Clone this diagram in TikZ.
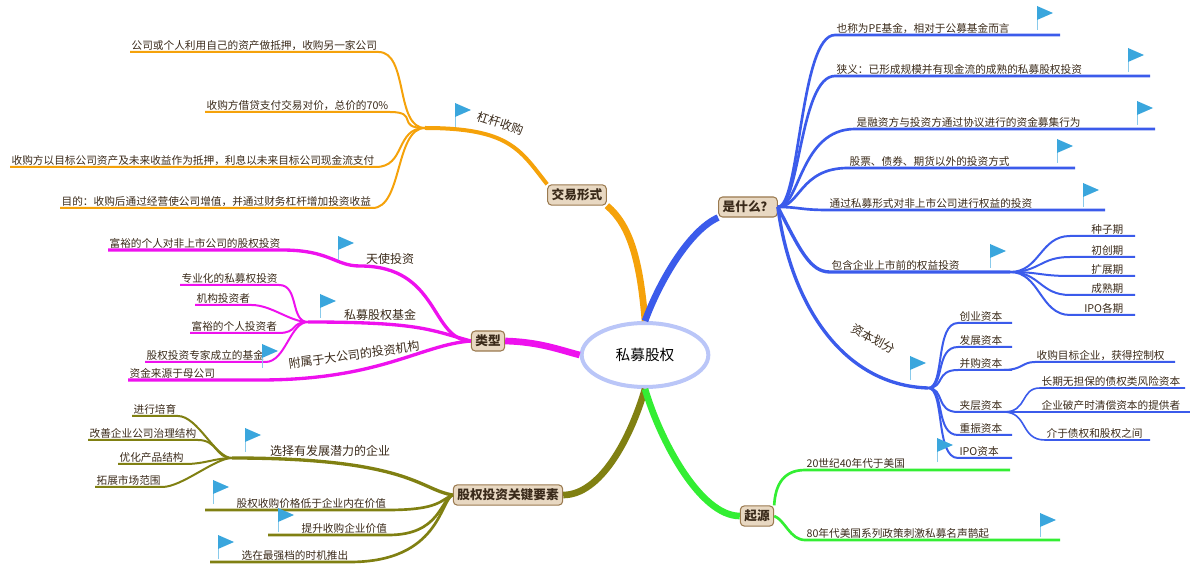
\documentclass[tikz,border=0pt]{standalone}
\usepackage{fontspec}
\setmainfont{Noto Sans CJK SC}
\usetikzlibrary{shapes.geometric}
\definecolor{orng}{HTML}{F5A20A}
\definecolor{blu}{HTML}{3B5BEB}
\definecolor{mgt}{HTML}{EE11EE}
\definecolor{olv}{HTML}{808012}
\definecolor{grn}{HTML}{33EE33}
\definecolor{flagc}{HTML}{3AA6DD}
\definecolor{boxfill}{HTML}{E8D8C2}
\definecolor{boxbrd}{HTML}{9A7A50}
\definecolor{txt}{HTML}{3A2A1A}
\begin{document}
\begin{tikzpicture}[x=0.75pt,y=-0.75pt,
	topic/.style={draw=boxbrd, fill=boxfill, rounded corners=3pt, thick, text=txt, font=\bfseries\fontsize{9.5}{11}\selectfont, inner sep=3pt},
	leaf/.style={font=\fontsize{8}{9}\selectfont, text=txt, inner sep=1pt, anchor=south west},
	midlab/.style={font=\fontsize{9}{10}\selectfont, text=txt, inner sep=1pt, anchor=south},
	flag/.pic={\draw[flagc!60, thin] (0,0) -- (0,-24); \fill[flagc] (0,-24) -- (16,-17) -- (0,-10) -- cycle;},
	]
	\useasboundingbox (0,0) rectangle (1200,584);

	% centre and topics
	\node[ellipse, draw=blu!35, line width=3pt, fill=white, minimum width=95, minimum height=48, inner sep=1pt, font=\fontsize{11}{13}\selectfont] at (645,355) (root) {私募股权};
	\node[topic] at (577,195) (trade) {交易形式};
	\node[topic] at (748,207) (what) {是什么？};
	\node[topic] at (488,341) (kind) {类型};
	\node[topic] at (508,495) (key) {股权投资关键要素};
	\node[topic] at (757,516) (origin) {起源};

	\draw[orng, line width=5pt] (root.north) .. controls (640,260) and (630,225) .. (trade.south east);
	\draw[blu, line width=5pt] (root.north) .. controls (660,280) and (690,230) .. (what.south west);
	\draw[mgt, line width=5pt] (root.west) .. controls (560,350) and (540,342) .. (kind.east);
	\draw[olv, line width=5pt] (root.south) .. controls (630,440) and (600,495) .. (key.east);
	\draw[grn, line width=5pt] (root.south) .. controls (660,440) and (700,516) .. (origin.west);

	% trade
	\coordinate (lbo) at (425,128);
	\node[midlab, rotate=-18] at (498,130) (lbolab) {杠杆收购};
	\draw[orng, line width=3pt] (trade.north west) .. controls (520,150) and (510,128) .. (lbo);
	\node[leaf] at (130,52) (t1) {公司或个人利用自己的资产做抵押，收购另一家公司};
	\node[leaf] at (205,112) (t2) {收购方借贷支付交易对价，总价的70\%};
	\node[leaf] at (10,167) (t3) {收购方以目标公司资产及未来收益作为抵押，利息以未来目标公司现金流支付};
	\node[leaf] at (60,208) (t4) {目的：收购后通过经营使公司增值，并通过财务杠杆增加投资收益};
	\foreach \t in {t1,t2,t3,t4}
		\draw[orng, line width=1.5pt] (\t.south west) -- (\t.south east) .. controls +(30,0) and (395,128) .. (lbo);

	% what
	\node[leaf] at (835,35) (w1) {也称为PE基金，相对于公募基金而言};
	\node[leaf] at (835,76) (w2) {狭义：已形成规模并有现金流的成熟的私募股权投资};
	\node[leaf] at (855,129) (w3) {是融资方与投资方通过协议进行的资金募集行为};
	\node[leaf] at (848,168) (w4) {股票、债券、期货以外的投资方式};
	\node[leaf] at (828,210) (w5) {通过私募形式对非上市公司进行权益的投资};
	\foreach \t/\e in {w1/1060,w2/1150,w3/1155,w4/1075,w5/1105}
		\draw[blu, line width=2pt] (what.east) .. controls (800,207) and (800,0|-\t.south west) .. (\t.south west) -- (\e,0|-\t.south west);

	\coordinate (stage) at (1010,272);
	\node[leaf] at (830,272) (w6) {包含企业上市前的权益投资};
	\draw[blu, line width=2.5pt] (what.east) .. controls (800,250) and (810,272) .. (w6.south west) -- (stage);
	\foreach \n/\s/\y in {s1/种子期/236,s2/初创期/257,s3/扩展期/276,s4/成熟期/295,s5/IPO各期/315}{
		\node[leaf, anchor=south east] at (1125,\y) (\n) {\s};
		\draw[blu, line width=1.5pt] (stage) .. controls (1040,272) and (1040,\y) .. (1070,\y) -- (1135,\y);
	}

	\coordinate (cap) at (928,388);
	\node[midlab, rotate=-28] at (870,345) (caplab) {资本划分};
	\draw[blu, line width=2.5pt] (what.east) .. controls (790,300) and (840,385) .. (cap);
	\foreach \n/\s/\y in {c1/创业资本/323,c2/发展资本/347,c3/并购资本/370,c4/夹层资本/412,c5/重振资本/435,c6/IPO资本/458}{
		\node[leaf] at (958,\y) (\n) {\s};
		\draw[blu, line width=1.5pt] (cap) .. controls (945,388) and (935,\y) .. (958,\y) -- (1012,\y);
	}
	\node[leaf] at (1035,362) (c31) {收购目标企业，获得控制权};
	\draw[blu, line width=1.5pt] (c3.south east) .. controls (1022,370) and (1022,362) .. (c31.south west) -- (1175,362);
	\node[leaf] at (1040,388) (c41) {长期无担保的债权类风险资本};
	\node[leaf] at (1040,412) (c42) {企业破产时清偿资本的提供者};
	\node[leaf] at (1045,440) (c43) {介于债权和股权之间};
	\foreach \t/\e in {c41/1185,c42/1190,c43/1150}
		\draw[blu, line width=1.2pt] (c4.south east) .. controls (1028,412) and (1020,0|-\t.south west) .. (\t.south west) -- (\e,0|-\t.south west);

	% origin
	\node[leaf] at (805,470) (o1) {20世纪40年代于美国};
	\node[leaf] at (805,540) (o2) {80年代美国系列政策刺激私募名声鹊起};
	\draw[grn, line width=2pt] (origin.north east) .. controls (775,490) and (780,470) .. (o1.south west) -- (1010,470);
	\draw[grn, line width=2pt] (origin.east) .. controls (785,520) and (790,540) .. (o2.south west) -- (1060,540);

	% kind
	\coordinate (pefund) at (308,322);
	\node[midlab] at (390,266) (angel) {天使投资};
	\node[midlab] at (380,322) (pelab) {私募股权基金};
	\node[midlab, rotate=8] at (355,362) (subsid) {附属于大公司的投资机构};
	\node[leaf] at (108,250) (k1) {富裕的个人对非上市公司的股权投资};
	\draw[mgt, line width=2.5pt] (kind.west) .. controls (430,340) and (440,266) .. (360,266) .. controls (335,266) and (330,250) .. (k1.south east) -- (k1.south west);
	\draw[mgt, line width=2.5pt] (kind.west) .. controls (430,330) and (420,322) .. (pefund);
	\foreach \n/\s/\x/\y in {k2/专业化的私募权投资/180/285,k3/机构投资者/195/305,k4/富裕的个人投资者/190/333,k5/股权投资专家成立的基金/145/362}{
		\node[leaf] at (\x,\y) (\n) {\s};
		\draw[mgt, line width=1.5pt] (\n.south west) -- (\n.south east) .. controls +(20,0) and (290,322) .. (pefund);
	}
	\node[leaf] at (128,380) (k6) {资金来源于母公司};
	\draw[mgt, line width=2.5pt] (kind.west) .. controls (420,345) and (380,380) .. (260,380) -- (k6.south west);

	% key
	\coordinate (pick) at (232,458);
	\node[midlab] at (330,458) (picklab) {选择有发展潜力的企业};
	\draw[olv, line width=2.5pt] (key.west) .. controls (420,490) and (410,458) .. (pick);
	\foreach \n/\s/\x/\y in {e1/进行培育/132/416,e2/改善企业公司治理结构/88/440,e3/优化产品结构/118/464,e4/拓展市场范围/95/487}{
		\node[leaf] at (\x,\y) (\n) {\s};
		\draw[olv, line width=1.5pt] (\n.south west) -- (\n.south east) .. controls +(20,0) and (215,458) .. (pick);
	}
	\node[leaf] at (235,510) (e5) {股权收购价格低于企业内在价值};
	\node[leaf] at (300,535) (e6) {提升收购企业价值};
	\node[leaf] at (240,562) (e7) {选在最强档的时机推出};
	\foreach \t/\s in {e5/205,e6/268,e7/210}
		\draw[olv, line width=2pt] (key.west) .. controls (440,500) and (440,0|-\t.south west) .. (\t.south east) -- (\s,0|-\t.south west);

	% flags
	\foreach \p in {(455,127),(1037,30),(1128,72),(1137,125),(1057,163),(1083,207),(990,268),(910,380),(937,462),(1040,537),(338,260),(320,318),(262,368),(245,452),(213,504),(278,532),(218,559)}
		\pic at \p {flag};
\end{tikzpicture}
\end{document}
